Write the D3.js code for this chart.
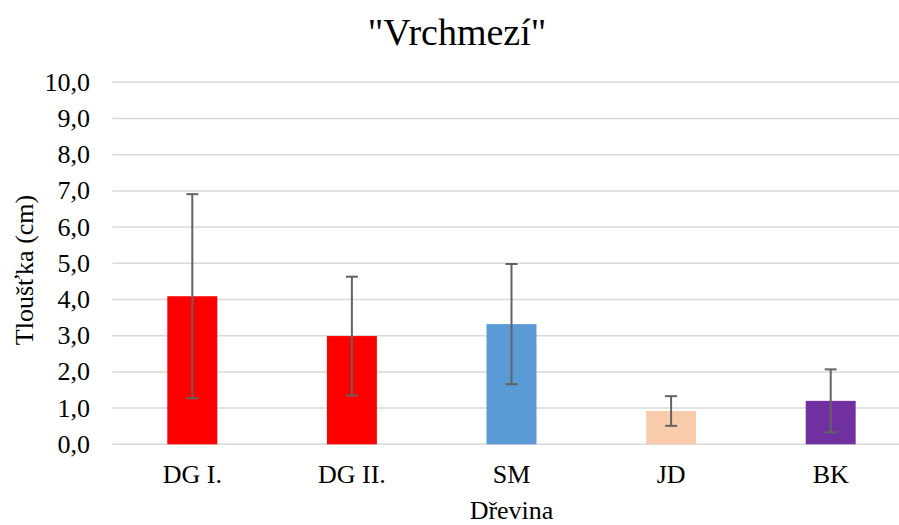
<!DOCTYPE html>
<html><head><meta charset="utf-8">
<script src="https://cdn.jsdelivr.net/npm/d3@7"></script>
<style>body{margin:0;background:#fff}svg{display:block}</style>
</head><body><svg id="c" width="899" height="525" font-family="Liberation Serif"></svg>
<script>
const categories = ["DG I.", "DG II.", "SM", "JD", "BK"];
const means = [4.09, 2.99, 3.32, 0.92, 1.20];
const errors = [2.82, 1.64, 1.66, 0.41, 0.87];
const colors = ["#FF0000", "#FF0000", "#5B9BD5", "#F8CBAD", "#7030A0"];
const yTicks = [0,1,2,3,4,5,6,7,8,9,10];

const FONT = "Liberation Serif";
const svg = d3.select("#c");
const m = {left:112.5, right:910.5, top:82.3, bottom:444.3};
const x = d3.scaleBand().domain(categories).range([m.left, m.right]).paddingInner(0.687).paddingOuter(0.3435);
const y = d3.scaleLinear().domain([0,10]).range([m.bottom, m.top]);

svg.append("g").selectAll("line").data(yTicks).join("line")
  .attr("x1", m.left).attr("x2", m.right)
  .attr("y1", d=>y(d)).attr("y2", d=>y(d))
  .attr("stroke", "#D9D9D9").attr("stroke-width", 1.5);

const fmt = d => d3.format(".1f")(d).replace(".", ",");
svg.append("g").selectAll("text").data(yTicks).join("text")
  .style("font-family", FONT)
  .attr("x", 90).attr("y", d=>y(d)).attr("dy", "0.33em")
  .attr("text-anchor", "end").attr("font-size", 26).attr("fill", "#000").text(fmt);

svg.append("g").selectAll("rect").data(categories).join("rect")
  .attr("x", d=>x(d)).attr("width", x.bandwidth())
  .attr("y", (d,i)=>y(means[i])).attr("height", (d,i)=>y(0)-y(means[i]))
  .attr("fill", (d,i)=>colors[i]);

const eg = svg.append("g").attr("stroke", "#636363").attr("stroke-width", 2);
categories.forEach((c,i)=>{
  const cx = x(c) + x.bandwidth()/2;
  const hi = y(means[i]+errors[i]), lo = y(means[i]-errors[i]);
  eg.append("line").attr("x1", cx).attr("x2", cx).attr("y1", hi).attr("y2", lo);
  eg.append("line").attr("x1", cx-6).attr("x2", cx+6).attr("y1", hi).attr("y2", hi);
  eg.append("line").attr("x1", cx-6).attr("x2", cx+6).attr("y1", lo).attr("y2", lo);
});

svg.append("g").selectAll("text").data(categories).join("text")
  .style("font-family", FONT)
  .attr("x", d=>x(d)+x.bandwidth()/2).attr("y", 483)
  .attr("text-anchor", "middle").attr("font-size", 26).attr("fill", "#000").text(d=>d);

svg.append("text").style("font-family", FONT).attr("x", 511.5).attr("y", 519).attr("text-anchor", "middle")
  .attr("font-size", 26).attr("fill", "#000").text("Dřevina");
svg.append("text").style("font-family", FONT).attr("transform", "translate(33,270) rotate(-90)").attr("text-anchor", "middle")
  .attr("font-size", 26).attr("fill", "#000").text("Tloušťka (cm)");
svg.append("text").style("font-family", FONT).attr("x", 457).attr("y", 45).attr("text-anchor", "middle")
  .attr("font-size", 38).attr("fill", "#000").text("\"Vrchmezí\"");
</script></body></html>
